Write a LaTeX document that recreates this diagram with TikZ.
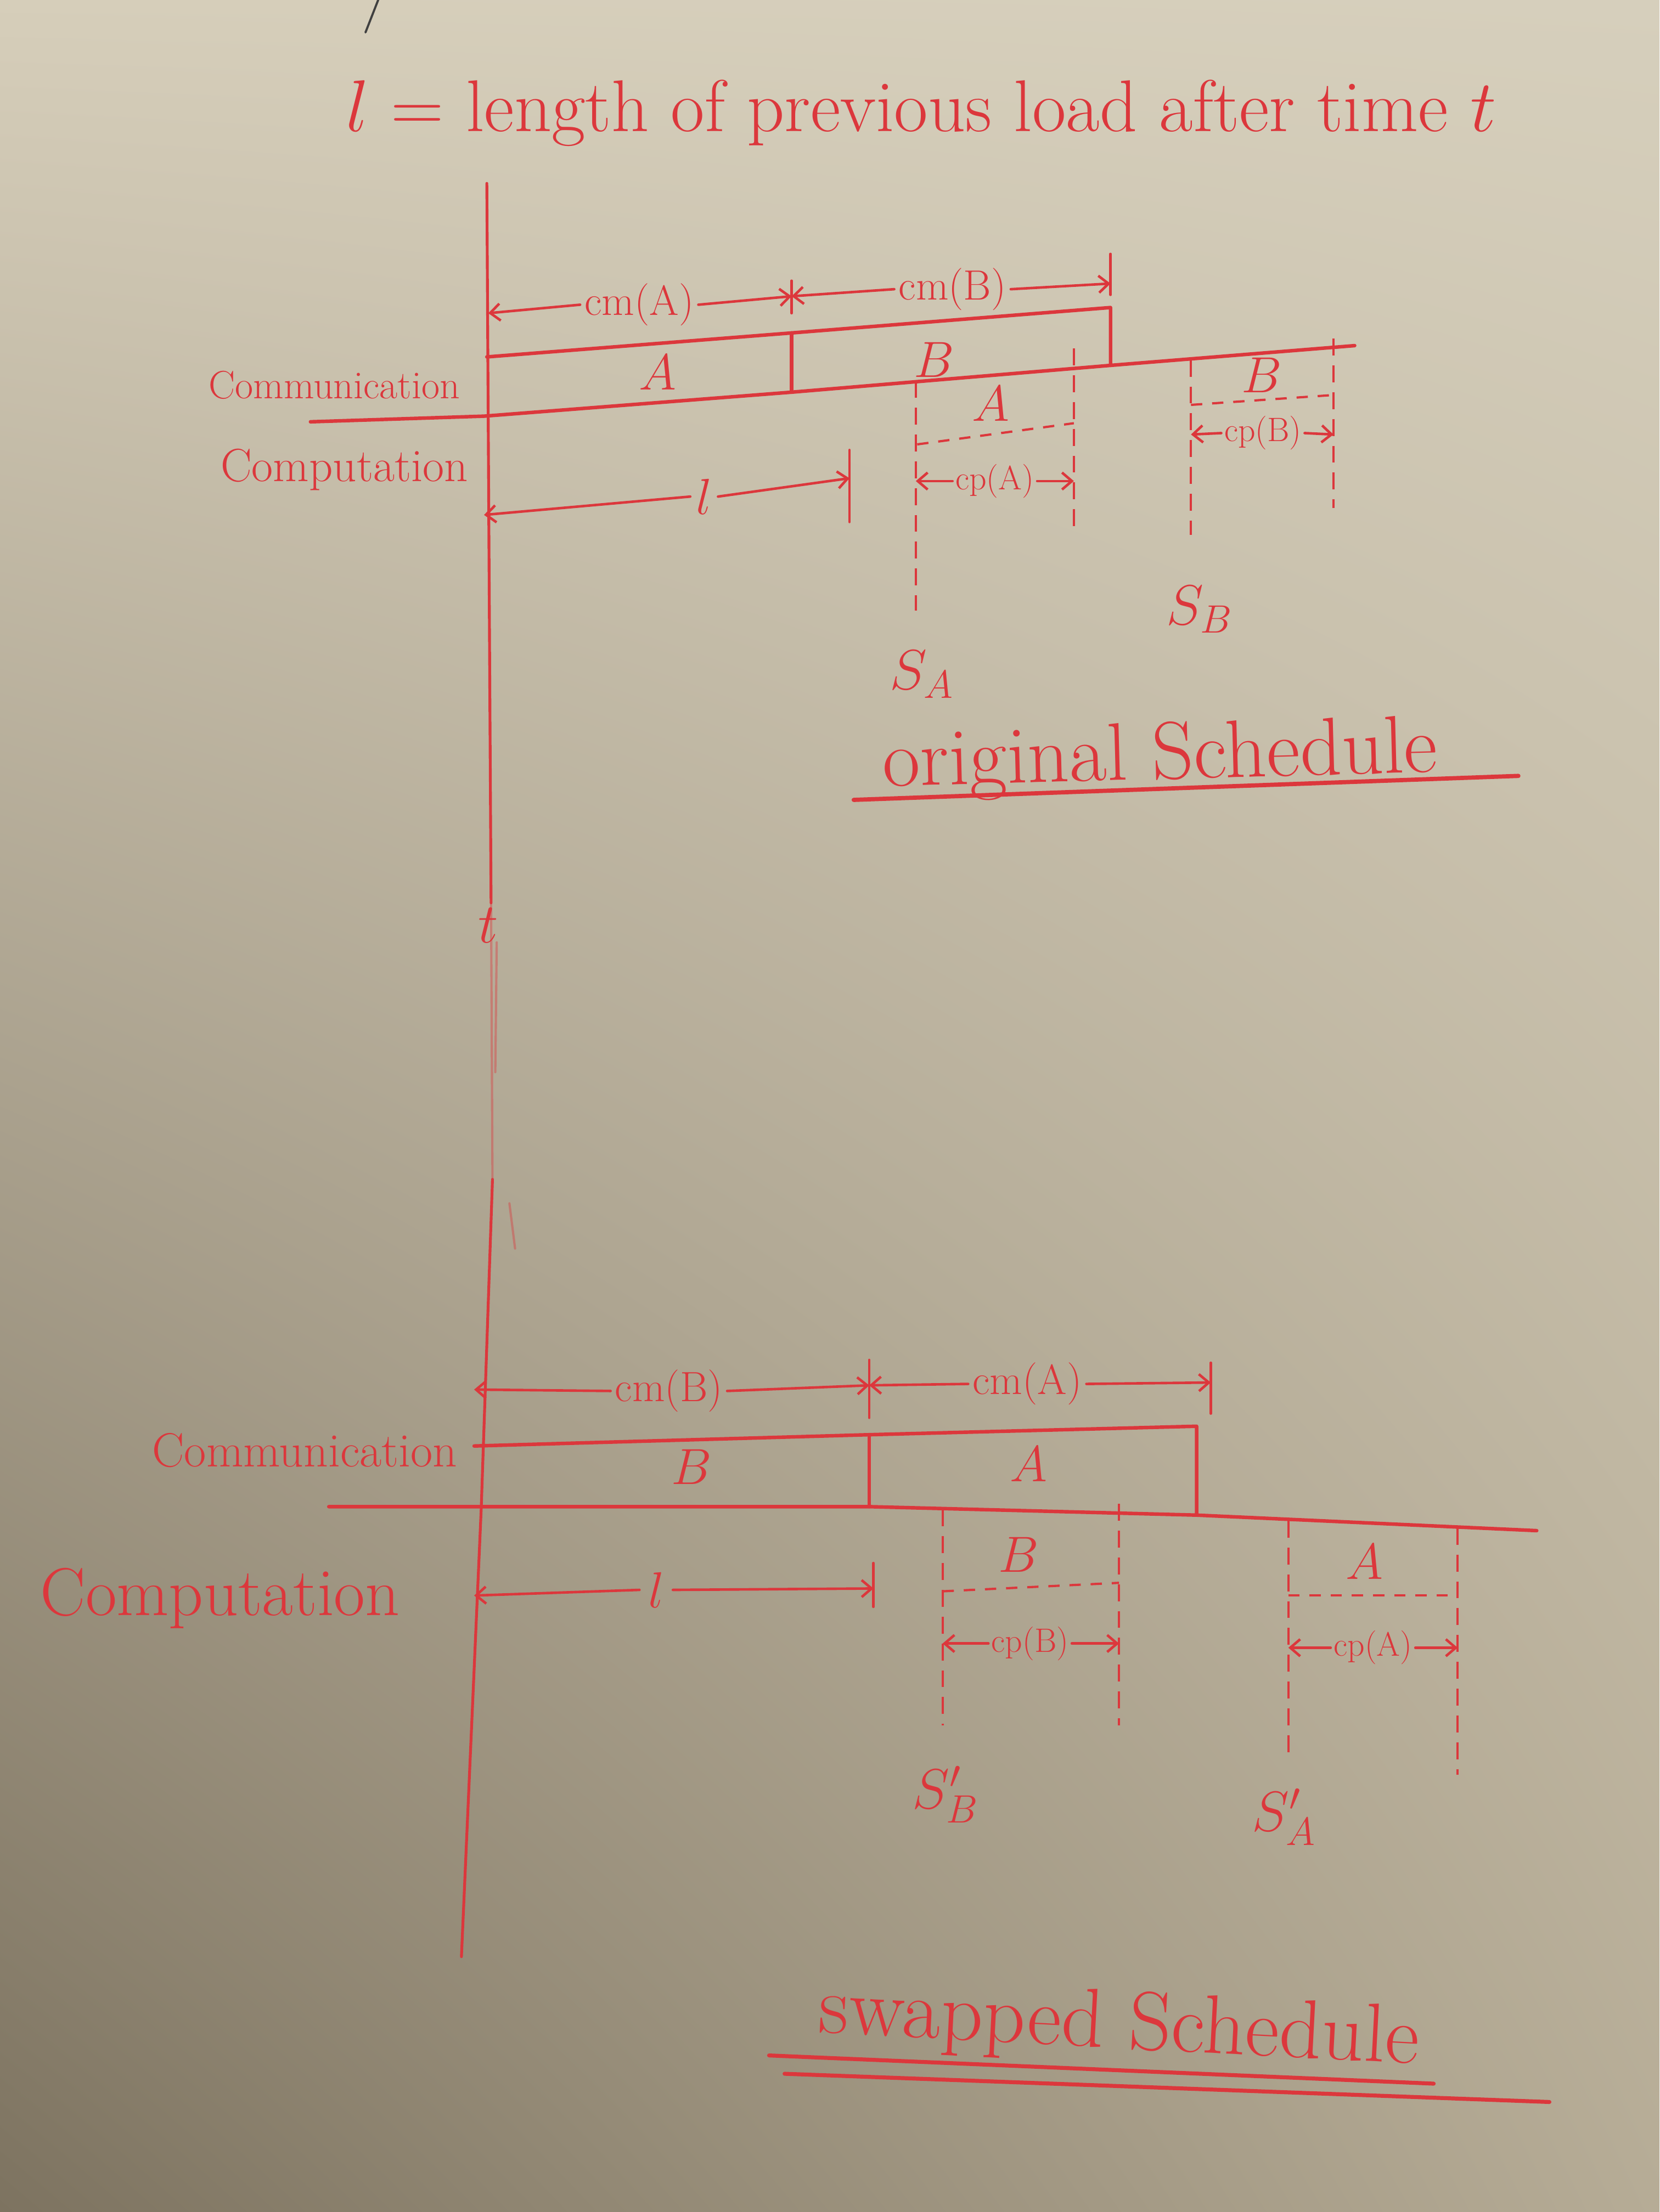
\RequirePackage{fix-cm}
\documentclass[tikz,border=0pt]{standalone}
\usepackage{fontspec}
\usetikzlibrary{arrows.meta,shadings}
\definecolor{inkc}{RGB}{220,55,60}
\definecolor{bgUL}{RGB}{214,206,186}
\definecolor{bgUR}{RGB}{214,207,188}
\definecolor{bgLL}{RGB}{125,115,96}
\definecolor{bgLR}{RGB}{182,172,150}
\newcommand\fsz[1]{\fontsize{#1pt}{#1pt}\selectfont}
\begin{document}
\begin{tikzpicture}[x=1pt,y=-1pt,
  ink/.style={draw=inkc, line width=2.5pt, line cap=round, line join=round},
  axisline/.style={draw=inkc, line width=2pt, line cap=round, line join=round},
  faint/.style={draw=inkc, line width=1.6pt, opacity=0.4, line cap=round},
  dashink/.style={draw=inkc, line width=1.6pt, dash pattern=on 12pt off 7pt},
  dashh/.style={draw=inkc, line width=1.6pt, dash pattern=on 8pt off 7pt},
  dimarrow/.style={draw=inkc, line width=1.8pt, line cap=round, -{Straight Barb[length=7pt,width=12pt]}},
  bar/.style={draw=inkc, line width=1.8pt, line cap=round},
  lbl/.style={text=inkc, inner sep=0pt},
  dimlbl/.style={text=inkc, inner sep=3pt, font={\fsz{30}}},
  cplbl/.style={text=inkc, inner sep=2pt, font={\fsz{24}}},
  boxlbl/.style={text=inkc, inner sep=0pt, font={\fsz{36}}},
]
% background (paper)
\shade[upper left=bgUL, upper right=bgUR, lower left=bgLL, lower right=bgLR] (0,0) rectangle (1176,1568);
\useasboundingbox (0,0) rectangle (1176,1568);

% stray pencil mark
\coordinate (st0) at (268,0); \coordinate (st1) at (259,23);
\draw[draw=black!75, line width=1.5pt, line cap=round] (st0) -- (st1);

% title
\node[lbl, anchor=base west, font={\fsz{52}}] (title) at (245,93) {$l$ = length of previous load after time $t$};

% time axis
\coordinate (ax0) at (345,130);
\coordinate (ax1) at (348,640);
\coordinate (ax2) at (349,836);
\coordinate (ax3) at (341,1070);
\coordinate (ax4) at (327,1387);
\draw[axisline] (ax0) -- (ax1);
\draw[faint] (ax1) -- (ax2);
\coordinate (fa0) at (352,668); \coordinate (fa1) at (351,760);
\draw[faint] (fa0) -- (fa1);
\coordinate (fb0) at (361,853); \coordinate (fb1) at (365,885);
\draw[faint] (fb0) -- (fb1);
\draw[axisline] (ax2) -- (ax3) -- (ax4);
\node[lbl, font={\fsz{40}}] (tlab) at (346,656) {$t$};

% ================= original schedule =================
\node[lbl, font={\fsz{28}}] (comm1) at (237,273) {Communication};
\node[lbl, font={\fsz{33}}] (comp1) at (244,333) {Computation};

% communication box
\coordinate (oT0) at (345,253); \coordinate (oT1) at (561,236); \coordinate (oT2) at (787,218);
\coordinate (oL) at (220,299); \coordinate (oB0) at (343,295); \coordinate (oB1) at (561,278);
\coordinate (oB2) at (787,259); \coordinate (oR) at (960,245);
\draw[ink] (oT0) -- (oT1) -- (oT2) -- (oB2);
\draw[ink] (oT1) -- (oB1);
\draw[ink] (oL) -- (oB0) -- (oB1) -- (oB2) -- (oR);
\node[boxlbl] (oAc) at (466,264) {$A$};
\node[boxlbl] (oBc) at (662,255) {$B$};

% cm dimensions
\coordinate (odA0) at (346,222); \coordinate (odA1) at (561,210); \coordinate (odB1) at (787,201);
\node[dimlbl] (ocmA) at (453,216) {cm(A)};
\node[dimlbl] (ocmB) at (675,205) {cm(B)};
\draw[dimarrow] (ocmA.west) -- (odA0);
\draw[dimarrow] (ocmA.east) -- (odA1);
\draw[dimarrow] (ocmB.west) -- (odA1);
\draw[dimarrow] (ocmB.east) -- (odB1);
\coordinate (obar1t) at (561,199); \coordinate (obar1b) at (561,222);
\coordinate (obar2t) at (787,180); \coordinate (obar2b) at (787,209);
\draw[bar] (obar1t) -- (obar1b);
\draw[bar] (obar2t) -- (obar2b);

% l dimension
\coordinate (ol0) at (343,365); \coordinate (ol1) at (602,339);
\node[lbl, inner sep=4pt, font={\fsz{36}}] (oll) at (499,352) {$l$};
\draw[dimarrow] (oll.west) -- (ol0);
\draw[dimarrow] (oll.east) -- (ol1);
\coordinate (olbt) at (602,319); \coordinate (olbb) at (602,370);
\draw[bar] (olbt) -- (olbb);

% computation A box
\coordinate (oAa) at (649,270); \coordinate (oAb) at (761,247);
\coordinate (oAc2) at (649,433); \coordinate (oAd) at (761,379);
\draw[dashink] (oAa) -- (oAc2);
\draw[dashink] (oAb) -- (oAd);
\coordinate (oAh0) at (650,315); \coordinate (oAh1) at (761,300);
\draw[dashh] (oAh0) -- (oAh1);
\node[boxlbl] (oAcl) at (702,286) {$A$};
\coordinate (ocA0) at (649,341); \coordinate (ocA1) at (761,341);
\node[cplbl] (ocpA) at (705,341) {cp(A)};
\draw[dimarrow] (ocpA.west) -- (ocA0);
\draw[dimarrow] (ocpA.east) -- (ocA1);

% computation B box
\coordinate (oBa) at (844,255); \coordinate (oBb) at (945,240);
\coordinate (oBc2) at (844,379); \coordinate (oBd) at (945,360);
\draw[dashink] (oBa) -- (oBc2);
\draw[dashink] (oBb) -- (oBd);
\coordinate (oBh0) at (844,287); \coordinate (oBh1) at (945,280);
\draw[dashh] (oBh0) -- (oBh1);
\node[boxlbl] (oBcl) at (894,266) {$B$};
\coordinate (ocB0) at (844,308); \coordinate (ocB1) at (945,308);
\node[cplbl] (ocpB) at (895,307) {cp(B)};
\draw[dimarrow] (ocpB.west) -- (ocB0);
\draw[dimarrow] (ocpB.east) -- (ocB1);

\node[lbl, font={\fsz{40}}] (oSA) at (653,478) {$S_A$};
\node[lbl, font={\fsz{40}}] (oSB) at (850,432) {$S_B$};

\node[lbl, font={\fsz{58}}, rotate=1.5] (otitle) at (822,538) {original Schedule};
\coordinate (ou0) at (605,567); \coordinate (ou1) at (1076,550);
\draw[ink, line width=3pt] (ou0) -- (ou1);

% ================= swapped schedule =================
\node[lbl, font={\fsz{34}}] (comm2) at (216,1028) {Communication};
\node[lbl, font={\fsz{48}}] (comp2) at (156,1133) {Computation};

% communication box
\coordinate (sT0) at (336,1025); \coordinate (sT1) at (616,1017); \coordinate (sT2) at (848,1011);
\coordinate (sL) at (233,1068); \coordinate (sB0) at (336,1068); \coordinate (sB1) at (616,1068);
\coordinate (sB2) at (848,1074); \coordinate (sR) at (1089,1085);
\draw[ink] (sT0) -- (sT1) -- (sT2) -- (sB2);
\draw[ink] (sT1) -- (sB1);
\draw[ink] (sL) -- (sB0) -- (sB1) -- (sB2) -- (sR);
\node[boxlbl] (sBc) at (490,1040) {$B$};
\node[boxlbl] (sAc) at (729,1038) {$A$};

% cm dimensions
\coordinate (sdB0) at (336,985); \coordinate (sdB1) at (616,982); \coordinate (sdA1) at (858,980);
\node[dimlbl] (scmB) at (474,986) {cm(B)};
\node[dimlbl] (scmA) at (728,981) {cm(A)};
\draw[dimarrow] (scmB.west) -- (sdB0);
\draw[dimarrow] (scmB.east) -- (sdB1);
\draw[dimarrow] (scmA.west) -- (sdB1);
\draw[dimarrow] (scmA.east) -- (sdA1);
\coordinate (sbar1t) at (616,964); \coordinate (sbar1b) at (616,1005);
\coordinate (sbar2t) at (858,966); \coordinate (sbar2b) at (858,1002);
\draw[bar] (sbar1t) -- (sbar1b);
\draw[bar] (sbar2t) -- (sbar2b);

% l dimension
\coordinate (sl0) at (336,1131); \coordinate (sl1) at (619,1126);
\node[lbl, inner sep=6pt, font={\fsz{36}}] (sll) at (465,1127) {$l$};
\draw[dimarrow] (sll.west) -- (sl0);
\draw[dimarrow] (sll.east) -- (sl1);
\coordinate (slbt) at (619,1108); \coordinate (slbb) at (619,1139);
\draw[bar] (slbt) -- (slbb);

% computation B box
\coordinate (sBa) at (668,1070); \coordinate (sBb) at (793,1066);
\coordinate (sBc2) at (668,1223); \coordinate (sBd) at (793,1223);
\draw[dashink] (sBa) -- (sBc2);
\draw[dashink] (sBb) -- (sBd);
\coordinate (sBh0) at (668,1128); \coordinate (sBh1) at (793,1122);
\draw[dashh] (sBh0) -- (sBh1);
\node[boxlbl] (sBcl) at (722,1102) {$B$};
\coordinate (scB0) at (668,1165); \coordinate (scB1) at (793,1165);
\node[cplbl] (scpB) at (730,1165) {cp(B)};
\draw[dimarrow] (scpB.west) -- (scB0);
\draw[dimarrow] (scpB.east) -- (scB1);

% computation A box
\coordinate (sAa) at (913,1078); \coordinate (sAb) at (1033,1083);
\coordinate (sAc2) at (913,1244); \coordinate (sAd) at (1033,1258);
\draw[dashink] (sAa) -- (sAc2);
\draw[dashink] (sAb) -- (sAd);
\coordinate (sAh0) at (913,1131); \coordinate (sAh1) at (1033,1131);
\draw[dashh] (sAh0) -- (sAh1);
\node[boxlbl] (sAcl) at (967,1107) {$A$};
\coordinate (scA0) at (913,1168); \coordinate (scA1) at (1033,1168);
\node[cplbl] (scpA) at (973,1168) {cp(A)};
\draw[dimarrow] (scpA.west) -- (scA0);
\draw[dimarrow] (scpA.east) -- (scA1);

\node[lbl, font={\fsz{40}}] (sSB) at (670,1272) {$S'_B$};
\node[lbl, font={\fsz{40}}] (sSA) at (910,1288) {$S'_A$};

\node[lbl, font={\fsz{59}}, rotate=-3] (stitle) at (793,1437) {swapped Schedule};
\coordinate (su0) at (545,1457); \coordinate (su1) at (1016,1477);
\coordinate (su2) at (556,1470); \coordinate (su3) at (1098,1490);
\draw[ink, line width=2.8pt] (su0) -- (su1);
\draw[ink, line width=2.8pt] (su2) -- (su3);
\end{tikzpicture}
\end{document}
